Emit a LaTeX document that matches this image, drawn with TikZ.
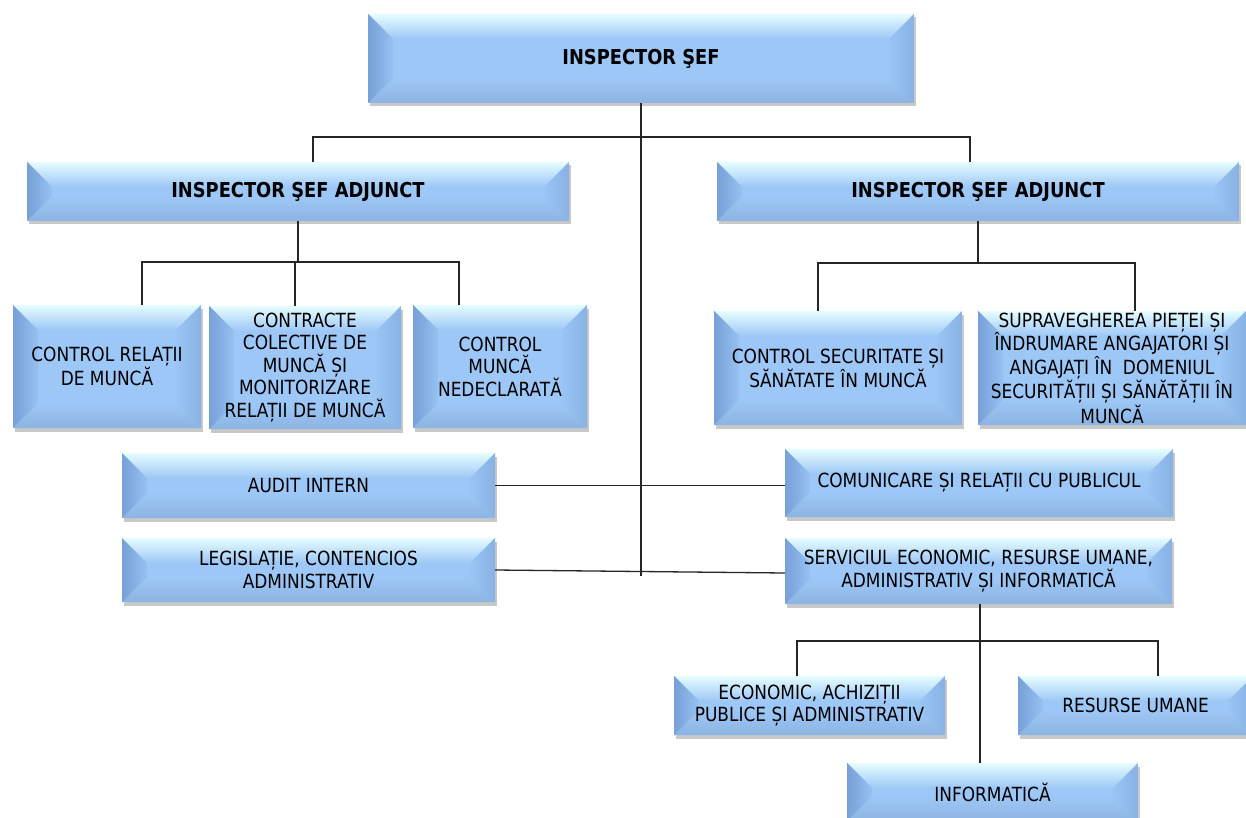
\documentclass[tikz,border=0pt]{standalone}
\usepackage{fontspec}
\setmainfont[FakeStretch=0.87]{DejaVu Sans}
\usetikzlibrary{shadows,calc}
\definecolor{bmain}{RGB}{157,199,246}
\definecolor{btop}{RGB}{230,253,255}
\definecolor{bleft}{RGB}{118,160,215}
\definecolor{bright}{RGB}{136,178,228}
\definecolor{bbot}{RGB}{140,180,226}
\tikzset{
  bev/.style={fill=bmain, draw=none, align=center, inner sep=0pt,
    font=\fontsize{19.5}{22.5}\selectfont,
    drop shadow={shadow xshift=1.5pt, shadow yshift=-3.5pt, opacity=0.3, fill=black!70},
    path picture={
      \pgfpointdiff{\pgfpointanchor{path picture bounding box}{south west}}{\pgfpointanchor{path picture bounding box}{north east}}%
      \pgfgetlastxy{\bevw}{\bevh}%
      \pgfmathsetmacro{\bevd}{min(25,0.45*\bevh)}%
      \coordinate (bSW) at (path picture bounding box.south west);
      \coordinate (bNE) at (path picture bounding box.north east);
      \coordinate (bNW) at (path picture bounding box.north west);
      \coordinate (bSE) at (path picture bounding box.south east);
      \coordinate (iSW) at ([shift={(\bevd pt,\bevd pt)}]bSW);
      \coordinate (iNE) at ([shift={(-\bevd pt,-\bevd pt)}]bNE);
      \coordinate (iNW) at ([shift={(\bevd pt,-\bevd pt)}]bNW);
      \coordinate (iSE) at ([shift={(-\bevd pt,\bevd pt)}]bSE);
      \shade[top color=btop, middle color=bmain!85!btop, bottom color=bmain] (bNW) -- (bNE) -- (iNE) -- (iNW) -- cycle;
      \shade[top color=bmain, middle color=bmain, bottom color=bbot] (bSW) -- (bSE) -- (iSE) -- (iSW) -- cycle;
      \shade[left color=bleft, right color=bmain!85!bleft] (bNW) -- (iNW) -- (iSW) -- (bSW) -- cycle;
      \shade[left color=bmain!85!bright, right color=bright] (bNE) -- (iNE) -- (iSE) -- (bSE) -- cycle;
    }},
  hd/.style={bev, font=\bfseries\fontsize{20.5}{22}\selectfont},
  sz/.style 2 args={minimum width=#1pt, minimum height=#2pt},
  conn/.style={draw=black!85, line width=1.3pt}
}
\begin{document}
\begin{tikzpicture}[x=1pt,y=-1pt]
\fill[white] (0,0) rectangle (1246,818);
\useasboundingbox (0,0) rectangle (1246,818);

\node[hd, sz={546}{89}] (top) at (641,58.5) {INSPECTOR ŞEF};
\node[hd, sz={542}{59}] (ladj) at (298,191.5) {INSPECTOR ŞEF ADJUNCT};
\node[hd, sz={522}{59}] (radj) at (978,191.5) {INSPECTOR ŞEF ADJUNCT};

\node[bev, sz={188}{123}] (crel) at (107,366.5) {CONTROL RELAȚII\\DE MUNCĂ};
\node[bev, sz={192}{123}] (contr) at (305,367.5) {CONTRACTE\\COLECTIVE DE\\MUNCĂ ȘI\\MONITORIZARE\\RELAȚII DE MUNCĂ};
\node[bev, sz={174}{123}] (cmn) at (500,366.5) {CONTROL\\MUNCĂ\\NEDECLARATĂ};

\node[bev, sz={248}{114}] (csec) at (838,368) {CONTROL SECURITATE ȘI\\SĂNĂTATE ÎN MUNCĂ};
\node[bev, sz={268}{114}] (supr) at (1112,368) {SUPRAVEGHEREA PIEȚEI ȘI\\ÎNDRUMARE ANGAJATORI ȘI\\ANGAJAȚI ÎN~~DOMENIUL\\SECURITĂȚII ȘI SĂNĂTĂȚII ÎN\\MUNCĂ};

\node[bev, sz={373}{65}] (audit) at (308.5,485.5) {AUDIT INTERN};
\node[bev, sz={388}{68}] (comm) at (979,483) {COMUNICARE ȘI RELAȚII CU PUBLICUL};
\node[bev, sz={373}{64}] (legis) at (308.5,570) {LEGISLAȚIE, CONTENCIOS\\ADMINISTRATIV};
\node[bev, sz={387}{66}] (serv) at (978.5,571) {SERVICIUL ECONOMIC, RESURSE UMANE,\\ADMINISTRATIV ȘI INFORMATICĂ};

\node[bev, sz={271}{59}] (econ) at (809.5,705.5) {ECONOMIC, ACHIZIȚII\\PUBLICE ȘI ADMINISTRATIV};
\node[bev, sz={235}{59}] (res) at (1135.5,705.5) {RESURSE UMANE};
\node[bev, sz={291}{58}] (info) at (992.5,792) {INFORMATICĂ};

% central trunk
\coordinate (c0) at (641,576);
\draw[conn] (top.south) -- (c0);
% to deputies
\coordinate (jL) at (313,137);
\coordinate (jR) at (970,137);
\draw[conn] (jL |- ladj.north) -- (jL) -- (jR) -- (jR |- radj.north);
% left deputy children
\coordinate (bL) at (298,262);
\coordinate (bL1) at (142,262);
\coordinate (bL2) at (295,262);
\coordinate (bL3) at (459,262);
\draw[conn] (bL |- ladj.south) -- (bL);
\draw[conn] (bL1 |- crel.north) -- (bL1) -- (bL3) -- (bL3 |- cmn.north);
\draw[conn] (bL2) -- (bL2 |- contr.north);
% right deputy children
\coordinate (bR) at (978,263);
\coordinate (bR1) at (818,263);
\coordinate (bR2) at (1135,263);
\draw[conn] (bR |- radj.south) -- (bR);
\draw[conn] (bR1 |- csec.north) -- (bR1) -- (bR2) -- (bR2 |- supr.north);
% side departments
\draw[conn] (audit.east) -- (audit.east -| comm.west);
\draw[conn] (legis.east) -- ([yshift=-2pt]serv.west);
% service children
\coordinate (bS) at (980,641);
\coordinate (bS1) at (797,641);
\coordinate (bS2) at (1158,641);
\draw[conn] (bS |- serv.south) -- (bS |- info.north);
\draw[conn] (bS1 |- econ.north) -- (bS1) -- (bS2) -- (bS2 |- res.north);
\end{tikzpicture}
\end{document}
